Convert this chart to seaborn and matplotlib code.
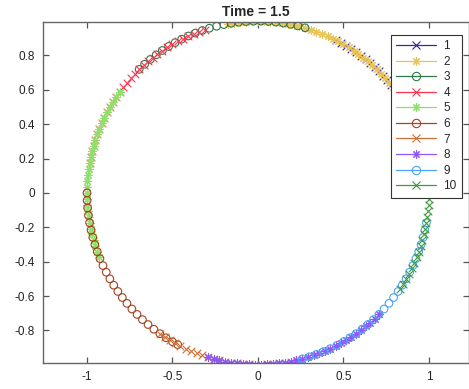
import numpy as np
import pandas as pd
import seaborn as sns
import matplotlib
matplotlib.use("Agg")
import matplotlib.pyplot as plt
from matplotlib.lines import Line2D

# angles (degrees) of particles in each series
ang1 = [63, 61, 59, 57, 55, 53, 51, 49, 47, 45, 43, 41, 39, 37, 35]
ang2 = [100, 98, 96, 94, 92, 90, 88, 86, 84, 82, 80, 78, 76, 74, 72, 70,
        68, 66, 64, 62, 60, 58, 56, 54, 52, 50, 48, 46, 44, 42, 40, 38]
ang3 = [134, 131.5, 129, 126.5, 124, 121.5, 119, 116.5, 114, 111.5, 109,
        106.5, 104, 101.5, 99, 96.5, 94, 91.5, 89, 86.5, 84, 81.5, 79, 76.5, 74]
ang4 = [108, 110, 112, 114, 116, 118, 120, 122, 124, 126, 128, 130, 132,
        134, 136, 138, 140, 142, 144, 146, 148, 150, 152, 154, 156, 158,
        160, 162, 164, 166, 168, 170]
ang5 = [144, 146, 148, 150, 152, 154, 156, 158, 160, 162, 164, 166, 168,
        170, 172, 174, 176, 178, 180, 182, 184, 186, 188, 190, 192, 194,
        196, 198, 200, 202]
ang6 = [180, 182.5, 185, 187.5, 190, 192.5, 195, 197.5, 200, 202.5, 205,
        207.5, 210, 212.5, 215, 217.5, 220, 222.5, 225, 227.5, 230, 232.5,
        235, 237.5, 240, 242]
ang7 = [235, 237, 239, 241, 243, 245, 247, 249, 251, 253, 255, 257, 259,
        261, 263, 265, 267, 269, 271, 273, 275, 277, 279, 281]
ang8 = [253, 255, 257, 259, 261, 263, 265, 267, 269, 271, 273, 275, 277,
        279, 281, 283, 285, 287, 289, 291, 293, 295, 297, 299, 301, 303,
        305, 307, 309, 311, 313, 315]
ang9 = [285, 287.5, 290, 292.5, 295, 297.5, 300, 302.5, 305, 307.5, 310,
        312.5, 315, 317.5, 320, 322.5, 325, 327.5, 330, 332.5, 335, 337.5,
        340, 342.5, 345, 347.5, 350]
ang10 = [326, 328, 330, 332, 334, 336, 338, 340, 342, 344, 346, 348, 350,
         352, 354, 356, 358, 360, 362, 364]

labels = ["1", "2", "3", "4", "5", "6", "7", "8", "9", "10"]
colors = ["#3d2596", "#e8c355", "#2f7a48", "#ff3350", "#8fe069",
          "#a3431f", "#cc7038", "#8d58f5", "#4aa3f5", "#3f9a3f"]
star = (8, 2, 0)
markers = ["x", star, "o", "x", star, "o", "x", star, "o", "x"]
angles = [ang1, ang2, ang3, ang4, ang5, ang6, ang7, ang8, ang9, ang10]

sns.set_style("ticks")
plt.rcParams['font.family'] = ['Liberation Sans', 'DejaVu Sans']

fig = plt.figure(figsize=(4.69, 3.89), dpi=100)
ax = fig.add_axes([43 / 469, 1 - 363 / 389, (469 - 43) / 469, (363 - 22) / 389])

handles = []
for lab, col, mk, a in zip(labels, colors, markers, angles):
    t = np.deg2rad(np.array(a, dtype=float))
    df = pd.DataFrame({"x": np.cos(t), "y": np.sin(t)})
    if mk == "o":
        sns.scatterplot(data=df, x="x", y="y", marker="o", s=30,
                        facecolors="none", edgecolor=col, linewidth=0.8, ax=ax)
    else:
        sns.scatterplot(data=df, x="x", y="y", marker=mk, s=30,
                        color=col, linewidth=0.8, ax=ax)
    handles.append(Line2D([0], [0], color=col, lw=0.9, marker=mk, markersize=6,
                          markerfacecolor="none", markeredgecolor=col,
                          markeredgewidth=0.8, label=lab))

ax.set_xlim(-1.257, 1.234)
ax.set_ylim(-0.99, 0.995)
ax.set_xticks([-1, -0.5, 0, 0.5, 1])
ax.set_xticklabels(["-1", "-0.5", "0", "0.5", "1"])
ax.set_yticks([-0.8, -0.6, -0.4, -0.2, 0, 0.2, 0.4, 0.6, 0.8])
ax.set_yticklabels(["-0.8", "-0.6", "-0.4", "-0.2", "0", "0.2", "0.4", "0.6", "0.8"])
ax.set_xlabel("")
ax.set_ylabel("")
ax.tick_params(direction="in", length=4, width=0.9, color="#555555",
               labelsize=8.5, top=True, right=True, labelcolor="#222222", pad=6)
for sp in ax.spines.values():
    sp.set_color("#666666")
    sp.set_linewidth(1.0)
ax.set_title("Time = 1.5", fontsize=10, fontweight="bold", pad=4)

leg = fig.legend(handles=handles, loc="upper right",
                 bbox_to_anchor=(462 / 469, 1 - 35 / 389),
                 fontsize=8.5, handlelength=3.4, labelspacing=0.3,
                 frameon=True, fancybox=False, borderpad=0.45, framealpha=1,
                 handletextpad=0.6, borderaxespad=0)
leg.get_frame().set_edgecolor("#333333")
leg.get_frame().set_linewidth(0.8)

fig.savefig("out.png", dpi=100)
